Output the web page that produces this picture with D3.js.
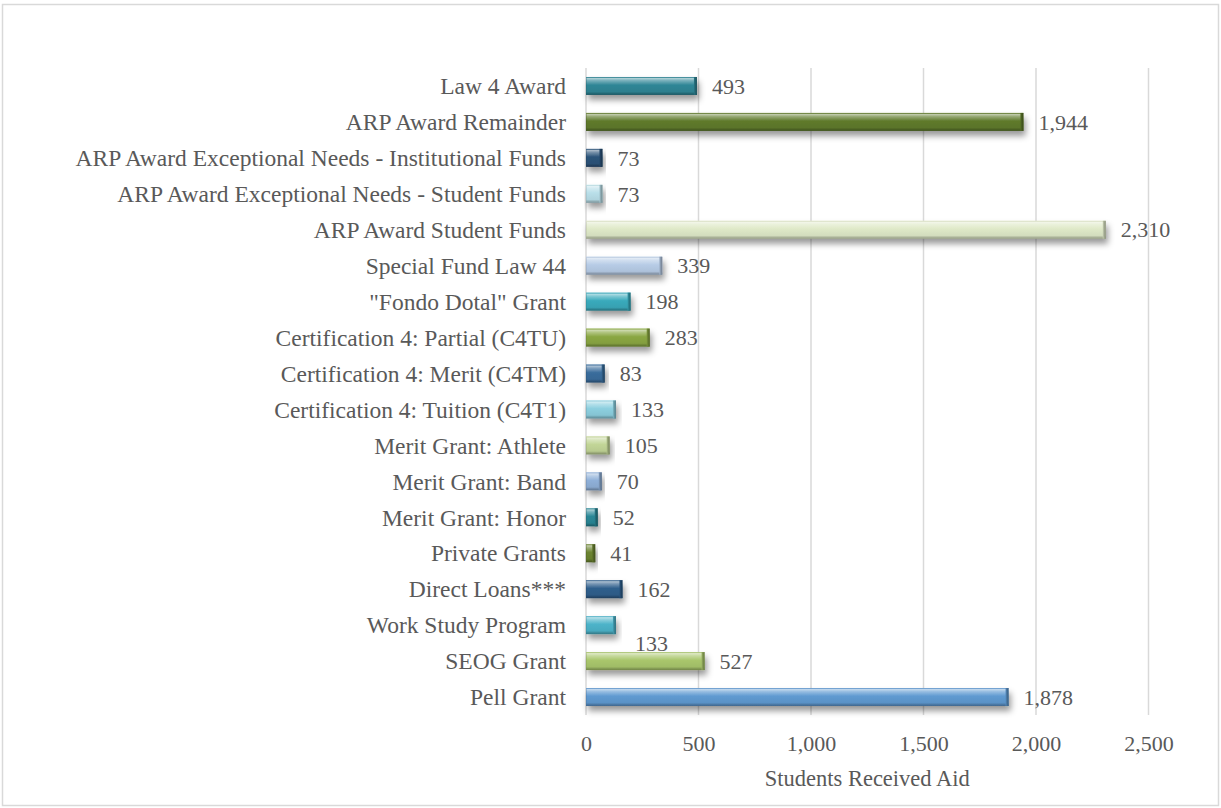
<!DOCTYPE html>
<html>
<head>
<meta charset="utf-8">
<script src="https://cdn.jsdelivr.net/npm/d3@7"></script>
<style>
  html, body { margin: 0; padding: 0; background: #fff; }
  svg { display: block; }
  text { font-family: "Liberation Serif", "Times New Roman", serif; fill: #595959; }
</style>
</head>
<body>
<svg id="chart" width="1221" height="808"></svg>
<script>
// ---- data (top to bottom) ----
const categories = [
  "Law 4 Award",
  "ARP Award Remainder",
  "ARP Award Exceptional Needs - Institutional Funds",
  "ARP Award Exceptional Needs - Student Funds",
  "ARP Award Student Funds",
  "Special Fund Law 44",
  "\"Fondo Dotal\" Grant",
  "Certification 4: Partial (C4TU)",
  "Certification 4: Merit (C4TM)",
  "Certification 4: Tuition (C4T1)",
  "Merit Grant: Athlete",
  "Merit Grant: Band",
  "Merit Grant: Honor",
  "Private Grants",
  "Direct Loans***",
  "Work Study Program",
  "SEOG Grant",
  "Pell Grant"
];
const values = [493, 1944, 73, 73, 2310, 339, 198, 283, 83, 133, 105, 70, 52, 41, 162, 133, 527, 1878];
const barColors = [
  "#2f8696", "#5f7a2b", "#2b5379", "#b9dfe9", "#dfe9c8", "#b7cce6",
  "#3aaabc", "#8aa743", "#3a6d9c", "#8ccfdf", "#c2d597", "#8fb0d8",
  "#2a8796", "#6c8431", "#2f5f8c", "#4db3c9", "#a9c66c", "#5f9ad1"
];
const xTicks = [0, 500, 1000, 1500, 2000, 2500];
const xTitle = "Students Received Aid";

// ---- layout ----
const svg = d3.select("#chart");
const W = 1221, H = 808;
const plot = { left: 586, right: 1148.5, top: 68, bottom: 715 };

svg.append("rect")
  .attr("x", 2.5).attr("y", 4.5).attr("width", W - 5).attr("height", H - 7)
  .attr("fill", "#fff").attr("stroke", "#d9d9d9").attr("stroke-width", 1.5);

const x = d3.scaleLinear().domain([0, 2500]).range([plot.left, plot.right]);
const y = d3.scaleBand().domain(categories).range([plot.top, plot.bottom])
  .paddingInner(0.5).paddingOuter(0.25);

const defs = svg.append("defs");
const shadow = defs.append("filter").attr("id", "shadow")
  .attr("x", "-10%").attr("y", "-50%").attr("width", "130%").attr("height", "250%");
shadow.append("feDropShadow").attr("dx", 2).attr("dy", 5).attr("stdDeviation", 3)
  .attr("flood-color", "#000").attr("flood-opacity", 0.4);

categories.forEach((c, i) => {
  const base = d3.color(barColors[i]);
  const g = defs.append("linearGradient").attr("id", "grad" + i)
    .attr("x1", 0).attr("y1", 0).attr("x2", 0).attr("y2", 1);
  const stops = [
    [0, base.brighter(0.3)],
    [0.08, d3.interpolateRgb(base, "#fff")(0.6)],
    [0.2, d3.interpolateRgb(base, "#fff")(0.35)],
    [0.45, base],
    [0.82, base.darker(0.15)],
    [0.9, base.darker(0.6)],
    [1, base.darker(1.2)]
  ];
  stops.forEach(s => g.append("stop").attr("offset", s[0]).attr("stop-color", s[1].toString()));
  const e = defs.append("linearGradient").attr("id", "edge" + i)
    .attr("x1", 0).attr("y1", 0).attr("x2", 1).attr("y2", 0);
  e.append("stop").attr("offset", 0).attr("stop-color", base.darker(0.3).toString());
  e.append("stop").attr("offset", 1).attr("stop-color", base.darker(1.6).toString());
});

// gridlines
svg.append("g").selectAll("line").data(xTicks).join("line")
  .attr("x1", d => x(d)).attr("x2", d => x(d))
  .attr("y1", plot.top).attr("y2", plot.bottom)
  .attr("stroke", "#d9d9d9").attr("stroke-width", 1.5);

// bars
const bars = svg.append("g");
categories.forEach((c, i) => {
  const bx = x(0), bw = x(values[i]) - x(0), by = y(c), bh = y.bandwidth();
  const g = bars.append("g").attr("filter", "url(#shadow)");
  g.append("rect").attr("x", bx).attr("y", by).attr("width", bw).attr("height", bh)
    .attr("fill", `url(#grad${i})`);
  g.append("rect").attr("x", bx + bw - 3).attr("y", by).attr("width", 3).attr("height", bh)
    .attr("fill", `url(#edge${i})`);
  g.append("rect").attr("x", bx + 0.5).attr("y", by + 0.5).attr("width", Math.max(bw - 1, 0)).attr("height", bh - 1)
    .attr("fill", "none").attr("stroke", d3.color(barColors[i]).darker(0.8)).attr("stroke-opacity", 0.35);
});

// value labels
svg.append("g").selectAll("text").data(categories).join("text")
  .attr("x", (c, i) => x(values[i]) + (c === "Work Study Program" ? 19 : 15))
  .attr("y", (c, i) => y(c) + y.bandwidth() / 2 + (c === "Work Study Program" ? 18 : 0))
  .attr("dy", "0.35em")
  .attr("font-size", 22)
  .text((c, i) => d3.format(",")(values[i]));

// y axis labels
svg.append("g").selectAll("text").data(categories).join("text")
  .attr("x", 566).attr("y", c => y(c) + y.bandwidth() / 2)
  .attr("dy", "0.35em").attr("text-anchor", "end").attr("font-size", 23.5)
  .text(c => c);

// x axis
const xAxis = d3.axisBottom(x).tickValues(xTicks).tickSize(0).tickPadding(0)
  .tickFormat(d3.format(","));
const ax = svg.append("g").attr("transform", `translate(0, 743)`).call(xAxis);
ax.select(".domain").remove();
ax.selectAll("text").attr("font-size", 22).attr("dy", "0.35em")
  .attr("fill", "#595959").attr("font-family", "Liberation Serif, serif");

svg.append("text").attr("x", (plot.left + plot.right) / 2).attr("y", 778)
  .attr("dy", "0.35em").attr("text-anchor", "middle").attr("font-size", 22.5)
  .text(xTitle);
</script>
</body>
</html>
